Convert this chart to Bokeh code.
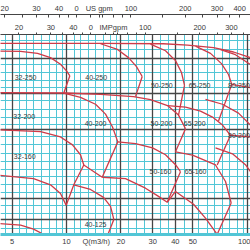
from bokeh.plotting import figure
from bokeh.models import LogAxis, FixedTicker, Grid, Range1d, LogScale
from bokeh.embed import file_html
from bokeh.resources import INLINE
from bokeh.core.properties import value

# ---------------- axes (flow Q in m3/h, head H in m) ----------------
Q_MIN, Q_MAX = 4.31, 104.3
H_MIN, H_MAX = 6.92, 52.2
US_PER_M3H = 4.4029
IMP_PER_M3H = 3.6662

Q_TICKS = [5, 10, 14.6, 20, 30, 40, 50, 100]
Q_LABELS = {5: "5", 10: "10", 14.6: "Q(m3/h)", 20: "20", 30: "30", 40: "40", 50: "50", 100: "100"}
US_TICKS = [20, 25, 30, 35, 40, 45, 50, 60, 66.8, 70, 80, 90, 100, 150, 200, 250, 300, 350, 400]
US_LABELS = {20: "20", 30: "30", 40: "40", 50: "0", 66.8: "US gpm", 100: "100",
             200: "200", 300: "300", 400: "400"}
IMP_TICKS = [20, 25, 30, 35, 40, 45, 50, 60, 66.7, 70, 80, 90, 100, 150, 200, 250, 300, 350]
IMP_LABELS = {20: "20", 30: "30", 40: "40", 50: "0", 66.7: "IMPgpm", 100: "100",
              200: "200", 300: "300"}

Q_DARK = [5, 10, 20, 30, 40, 50, 100]
Q_LIGHT = [4.6, 5.5, 6, 6.6, 7.3, 8, 8.8, 9.5, 11, 12, 13.2, 14.5, 16, 17.5, 19,
           22, 24.5, 27, 33, 36.5, 45, 54, 60, 66, 73, 80, 88, 95]
H_DARK = [8.05, 10, 19.95, 28.9, 41.0]
H_LIGHT = [7.35, 8.55, 9.25, 10.55, 11.45, 12.45, 13.3, 14.5, 15.75, 17.1, 18.6,
           21.1, 22.6, 24.5, 26.9, 30.7, 32.9, 35.5, 38.4, 44.7, 49.3]

# ---------------- curves ----------------
topA_Q = [4.0, 15.42, 34.41, 46.73, 65.1, 83.99, 104.3]
topA_H = [47.68, 47.68, 47.54, 46.93, 45.67, 43.74, 41.32]
c32_250_Q = [4.0, 5.57, 6.91, 8.15, 9.26, 10.0, 10.43]
c32_250_H = [44.18, 44.0, 43.13, 41.32, 38.63, 36.16, 34.4]
e32_250_Q = [10.43, 9.66]
e32_250_H = [34.4, 28.9]
lineB_Q = [4.0, 9.87, 15.42, 23.48, 29.16, 36.22, 41.67, 45.56]
lineB_H = [29.0, 28.9, 28.52, 27.87, 27.05, 25.47, 23.12, 20.15]
c40_250_Q = [15.42, 19.15, 22.03, 24.39, 26.23]
c40_250_H = [47.54, 44.9, 41.32, 37.75, 34.16]
e40_250_Q = [26.23, 24.09]
e40_250_H = [34.16, 27.87]
c50_250_Q = [29.16, 35.3, 40.1, 43.28, 44.98]
c50_250_H = [47.4, 44.31, 40.09, 35.56, 31.21]
e50_250_Q = [44.98, 41.67]
e50_250_H = [31.21, 23.12]
c65_250_Q = [51.76, 62.64, 72.06, 78.8, 82.16]
c65_250_H = [46.45, 43.13, 38.9, 34.85, 31.53]
e65_250_Q = [82.16, 69.37]
e65_250_H = [31.53, 21.8]
b80_250_Q = [82.16, 104.3]
b80_250_H = [31.53, 30.5]
c80_250_Q = [71.15, 86.1, 104.3]
c80_250_H = [44.76, 42.57, 38.51]
m80_Q = [58.77, 73.0, 89.5, 104.3]
m80_H = [27.13, 25.8, 23.58, 20.91]
c65_200_Q = [36.22, 45.56, 55.14, 64.27, 73.0, 80.8]
c65_200_H = [25.47, 25.04, 24.06, 22.66, 20.91, 18.86]
e65_200_Q = [80.8, 68.23]
e65_200_H = [18.86, 13.97]
b80_200_Q = [80.8, 104.3]
b80_200_H = [18.86, 18.54]
c40_200_Q = [9.66, 11.95, 14.47, 16.44, 17.97, 19.22]
c40_200_H = [28.9, 27.68, 25.8, 23.35, 20.5, 17.64]
e40_200_Q = [19.22, 15.76]
e40_200_H = [17.64, 12.34]
c50_160_Q = [19.22, 24.09, 29.92, 35.3, 40.1, 42.73]
c50_160_H = [17.64, 17.34, 16.61, 15.49, 14.01, 13.06]
e50_160_Q = [42.73, 36.07]
e50_160_H = [13.06, 9.58]
e50_200_Q = [45.56, 40.1]
e50_200_H = [20.15, 15.96]
c65_160_Q = [40.1, 49.81, 66.77, 75.85, 81.54]
c65_160_H = [15.96, 15.44, 13.97, 11.82, 9.51]
e65_160_Q = [81.54, 67.5]
e65_160_H = [9.51, 6.8]
c32_160_Q = [4.0, 7.18, 9.26, 10.79, 11.95, 12.46]
c32_160_H = [19.95, 19.56, 18.54, 17.12, 15.49, 13.97]
c40_160_Q = [12.46, 15.76]
c40_160_H = [13.97, 12.34]
e32_160_Q = [12.46, 10.97, 9.96]
e32_160_H = [13.97, 11.43, 9.29]
c32_125_Q = [4.0, 6.57, 8.15, 9.26, 9.96]
c32_125_H = [12.64, 12.18, 11.43, 10.48, 9.29]
c40_125_Q = [10.97, 13.57, 16.02, 17.52, 18.27]
c40_125_H = [11.43, 10.91, 10.07, 9.2, 8.06]
e40_125_Q = [18.27, 16.8]
e40_125_H = [8.06, 6.8]
c32_100_Q = [4.0, 5.57, 6.57, 7.49, 7.9]
c32_100_H = [7.76, 7.61, 7.31, 6.92, 6.75]
c50_125_Q = [15.76, 21.21, 27.36, 32.29, 36.07]
c50_125_H = [12.34, 12.18, 11.05, 10.17, 9.58]
c65_125_Q = [36.07, 40.1, 50.45, 58.77, 68.23]
c65_125_H = [9.58, 10.69, 9.39, 8.16, 6.93]
c80_160_Q = [66.77, 82.9, 97.8, 104.3]
c80_160_H = [16.61, 15.64, 14.01, 13.06]

LABEL_TEXT = ["32-250", "40-250", "50-250", "65-250", "32-200", "40-200", "50-200",
              "65-200", "32-160", "50-160", "65-160", "40-125"]
LABEL_Q = [5.93, 14.6, 33.7, 54.5, 5.83, 14.47, 33.5, 51.2, 5.87, 33.1, 51.8, 14.47]
LABEL_H = [33.7, 33.7, 31.1, 31.1, 22.7, 21.2, 21.2, 21.2, 15.2, 13.06, 13.06, 7.66]
EDGE_TEXT = ["80-250", "80-200"]
EDGE_Q = [78.3, 78.3]
EDGE_H = [31.1, 18.86]

RED = "#cf3b48"
CYAN = "#52c6d6"
DARK = "#454545"
TXT = "#3a3a3a"
FONT = "Liberation Sans"

p = figure(width=250, height=250, x_axis_type="log", y_axis_type="log",
           x_range=Range1d(Q_MIN, Q_MAX), y_range=Range1d(H_MIN, H_MAX),
           output_backend="svg", toolbar_location=None, y_axis_location=None,
           min_border_left=0, min_border_right=0, min_border_top=31, min_border_bottom=16)
p.outline_line_color = None
p.xgrid.visible = False
p.ygrid.visible = False
p.background_fill_color = "white"

p.extra_x_ranges = {"us": Range1d(Q_MIN * US_PER_M3H, Q_MAX * US_PER_M3H),
                    "imp": Range1d(Q_MIN * IMP_PER_M3H, Q_MAX * IMP_PER_M3H)}
p.extra_x_scales = {"us": LogScale(), "imp": LogScale()}

for dim, ticks, col, w in [(0, Q_LIGHT, CYAN, 1.0), (1, H_LIGHT, CYAN, 1.0),
                           (0, Q_DARK, DARK, 1.3), (1, H_DARK, DARK, 1.3)]:
    p.add_layout(Grid(dimension=dim, ticker=FixedTicker(ticks=ticks),
                      grid_line_color=col, grid_line_width=w))

# bottom axis
ax = p.xaxis[0]
ax.ticker = FixedTicker(ticks=Q_TICKS)
ax.major_label_overrides = Q_LABELS
ax.major_tick_in = 0
ax.major_tick_out = 0
ax.minor_tick_line_color = None
ax.axis_line_color = CYAN
ax.axis_line_width = 3
ax.major_label_standoff = 2
ax.major_label_text_font = FONT
ax.major_label_text_font_size = "7.5px"
ax.major_label_text_color = TXT

def top_axis(name, ticks, labels):
    a = LogAxis(x_range_name=name, ticker=FixedTicker(ticks=ticks),
                major_label_overrides={t: labels.get(t, "") for t in ticks})
    a.axis_line_color = DARK
    a.axis_line_width = 1
    a.major_tick_line_color = DARK
    a.minor_tick_line_color = None
    a.major_label_text_font = FONT
    a.major_label_text_font_size = "7.5px"
    a.major_label_text_color = TXT
    return a

imp = top_axis("imp", IMP_TICKS, IMP_LABELS)
imp.major_tick_out = 2
imp.major_tick_in = 0
imp.major_label_standoff = 1
imp.axis_label = "\u00a0"
imp.axis_label_text_font_size = "2px"
imp.axis_label_standoff = 0
us = top_axis("us", US_TICKS, US_LABELS)
us.major_tick_out = 0
us.major_tick_in = 3
us.major_label_standoff = 2
p.add_layout(imp, "above")
p.add_layout(us, "above")

xs = [topA_Q, c32_250_Q, e32_250_Q, lineB_Q, c40_250_Q, e40_250_Q, c50_250_Q, e50_250_Q,
      c65_250_Q, e65_250_Q, b80_250_Q, c80_250_Q, m80_Q, c65_200_Q, e65_200_Q, b80_200_Q,
      c40_200_Q, e40_200_Q, c50_160_Q, e50_160_Q, e50_200_Q, c65_160_Q, e65_160_Q,
      c32_160_Q, c40_160_Q, e32_160_Q, c32_125_Q, c40_125_Q, e40_125_Q, c32_100_Q,
      c50_125_Q, c65_125_Q, c80_160_Q]
ys = [topA_H, c32_250_H, e32_250_H, lineB_H, c40_250_H, e40_250_H, c50_250_H, e50_250_H,
      c65_250_H, e65_250_H, b80_250_H, c80_250_H, m80_H, c65_200_H, e65_200_H, b80_200_H,
      c40_200_H, e40_200_H, c50_160_H, e50_160_H, e50_200_H, c65_160_H, e65_160_H,
      c32_160_H, c40_160_H, e32_160_H, c32_125_H, c40_125_H, e40_125_H, c32_100_H,
      c50_125_H, c65_125_H, c80_160_H]
p.multi_line(xs=xs, ys=ys, line_color=RED, line_width=1.3, line_join="round")

p.text(x=LABEL_Q, y=LABEL_H, text=LABEL_TEXT, text_align="center", text_baseline="middle",
       text_font=value(FONT), text_font_size="7px", text_color=TXT)
p.text(x=EDGE_Q, y=EDGE_H, text=EDGE_TEXT, text_align="left", text_baseline="middle",
       text_font=value(FONT), text_font_size="7px", text_color=TXT)

open("out.html", "w").write(file_html(p, INLINE))
